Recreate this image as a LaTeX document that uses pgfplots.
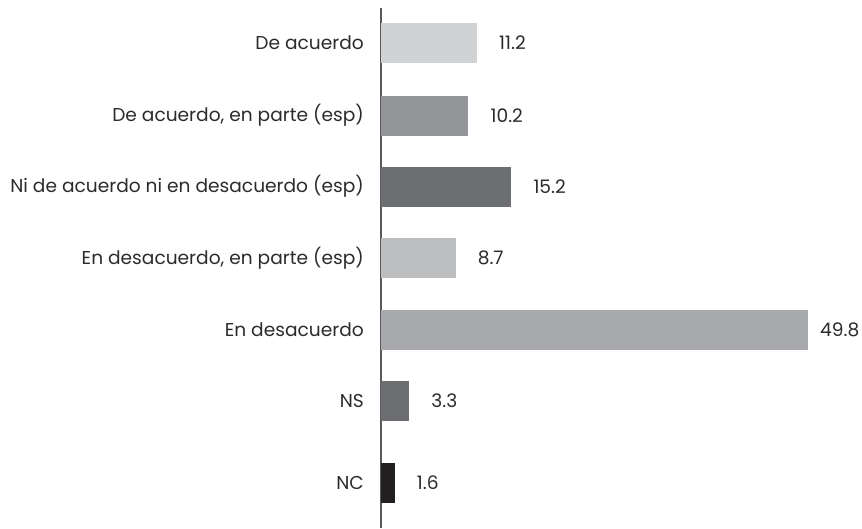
\documentclass[border=0pt]{standalone}
\usepackage{pgfplots}
\pgfplotsset{compat=1.18}
\usepackage{fontspec}
\setmainfont{Poppins}
\definecolor{txt}{HTML}{2B2B2B}
\definecolor{axc}{HTML}{58595B}
\definecolor{c1}{HTML}{D1D2D4}
\definecolor{c2}{HTML}{939598}
\definecolor{c3}{HTML}{6D6E71}
\definecolor{c4}{HTML}{BCBEC0}
\definecolor{c5}{HTML}{A7A9AC}
\definecolor{c6}{HTML}{6D6E71}
\definecolor{c7}{HTML}{231F20}
\begin{document}
\begin{tikzpicture}
\begin{axis}[
  name=ax,
  at={(0,0)}, anchor=south west,
  scale only axis,
  width=427pt, height=520pt,
  xmin=0, xmax=49.8,
  ymin=8, ymax=528, y dir=reverse,
  clip=false,
  xbar, bar shift=0pt, bar width=40,
  axis x line=none,
  axis y line*=left,
  axis line style={draw=axc, line width=1.3pt, -},
  ytick={43,115.5,186.5,258,329.5,400.5,482.5},
  yticklabels={De acuerdo, {De acuerdo, en parte (esp)}, Ni de acuerdo ni en desacuerdo (esp), {En desacuerdo, en parte (esp)}, En desacuerdo, NS, NC},
  major tick length=0pt,
  yticklabel style={font=\fontsize{18.6}{22}\selectfont, text=txt, inner sep=0pt, xshift=-17pt},
  nodes near coords,
  nodes near coords align={horizontal},
  every node near coord/.append style={font=\fontsize{18.6}{22}\selectfont, text=txt, anchor=west, inner sep=0pt, xshift=22pt},
  /pgf/number format/.cd, fixed, fixed zerofill, precision=1, assume math mode=true,
]
\addplot[fill=c1, draw=none] coordinates {(11.2,43)};
\addplot[fill=c2, draw=none] coordinates {(10.2,115.5)};
\addplot[fill=c3, draw=none] coordinates {(15.2,186.5)};
\addplot[fill=c4, draw=none] coordinates {(8.7,258)};
\addplot[fill=c5, draw=none, every node near coord/.append style={xshift=-10pt}] coordinates {(49.8,329.5)};
\addplot[fill=c6, draw=none] coordinates {(3.3,400.5)};
\addplot[fill=c7, draw=none] coordinates {(1.6,482.5)};
\end{axis}
\pgfresetboundingbox
\path[use as bounding box] (ax.south west) ++(-381pt,0pt) rectangle ++(862pt,528pt);
\end{tikzpicture}
\end{document}
